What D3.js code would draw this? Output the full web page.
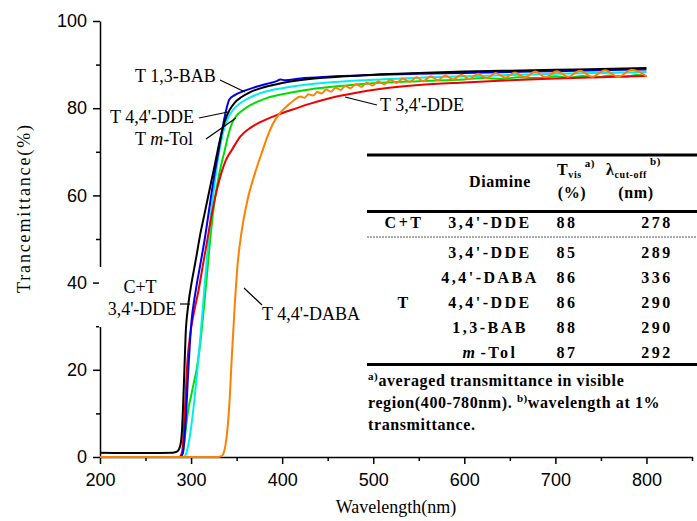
<!DOCTYPE html>
<html>
<head>
<meta charset="utf-8">
<script src="https://cdn.jsdelivr.net/npm/d3@7"></script>
<style>
  body { margin: 0; background: #fff; }
  svg { display: block; }
</style>
</head>
<body>
<svg id="chart"></svg>
<script>
var width = 697;
var height = 521;

// spectra, [wavelength nm, transmittance %]
var ctDDE34 = [[200,1.0],[250,0.9],[280,1.0],[285,1.3],[288,2.5],[290,6],[292,16],[294,28],[297,35],[301,40.5],
  [305,45],[310,51],[315,56],[320,61],[326,67],[332,73],[337,77],[342,79.5],[348,81.3],[355,82.5],[365,83.7],
  [380,84.8],[400,85.8],[430,86.7],[470,87.3],[500,87.7],[550,88.1],[600,88.4],[650,88.6],[700,88.8],[750,89.0],[800,89.2]];

var tBAB13 = [[200,0],[288,0],[291,1],[294,8],[297,20],[300,30],[305,38],[310,44],[315,50],[320,57],[325,64],
  [330,70],[335,76],[339,80],[342,82],[348,83],[355,83.7],[370,84.8],[385,85.7],[394,86.2],[398,86.6],[403,86.4],
  [420,86.8],[450,87.2],[500,87.6],[550,87.9],[600,88.1],[650,88.3],[700,88.5],[750,88.7],[800,88.9]];

var tDDE34 = [[200,0],[287,0],[290,1],[293,10],[296,22],[299,28],[303,33],[308,38],[313,44],[318,50],[323,56],
  [328,61],[333,65],[338,68],[345,70.5],[354,73.5],[365,75.5],[376,76.8],[394,78.4],[410,79.6],[430,81],
  [452,82.3],[480,83.5],[507,84.4],[550,85.3],[600,85.9],[650,86.4],[700,86.8],[750,87.1],[800,87.4]];

var tDDE44 = [[200,0],[292,0],[295,1],[298,4],[302,10],[306,18],[310,27],[314,37],[318,47],[322,56],[326,63],
  [330,69],[335,74.3],[340,77.5],[346,79.6],[355,81.3],[365,82.5],[380,83.7],[400,84.6],[430,85.5],[470,86.2],
  [500,86.5],[550,87],[600,87.3],[650,87.6],[700,87.9],[750,88.1],[800,88.3]];

var tTol = [[200,0],[289,0],[291,1],[294,6],[297,11],[300,14],[303,17],[306,20],[310,26],[314,34],[318,43],
  [322,52],[326,59],[331,65],[337,70.4],[341,74],[345,76.6],[350,78.3],[357,79.6],[370,81.2],[383,82.3],
  [400,83.2],[430,84.3],[470,85.2],[500,85.7],[550,86.2],[600,86.6],[620,86.9],[640,86.7],[660,87.1],[680,86.9],
  [700,87.3],[715,87.0],[730,87.4],[745,87.1],[760,87.5],[775,87.2],[790,87.6],[800,87.3]];

var tDABA44 = [[200,0],[330,0],[334,0.3],[338,3],[342,12],[345,24],[348,35],[351,44],[355,51],[362,59],
  [370,65],[378,70],[384,73.6],[390,76.5],[398,79],[407,80.8],[414,82],
  [420,82.7],[424.5,82.4],[429,83.2],[434,82.9],[438.5,83.7],[443.5,83.4],[448.5,84.3],[453.5,83.8],
  [459,84.7],[464,84.2],[469.5,85.1],[475,84.6],[481,85.5],[487,84.9],[493,85.9],[499,85.2],[505.5,86.2],
  [512,85.5],[519,86.5],[525.5,85.8],[532.5,86.8],[540,86.0],[547.5,87.1],[555,86.2],[563,87.3],[571,86.4],
  [579,87.5],[588,86.6],[596.5,87.7],[605.5,86.7],[615,87.9],[624.5,86.9],[634.5,88.1],[645,87.0],
  [655.5,88.2],[666.5,87.1],[678,88.4],[689.5,87.1],[701.5,88.5],[714,87.2],[727,88.6],[740.5,87.2],
  [754.5,88.7],[769,87.2],[784,88.8],[800,87.3]];

var seriesList = [tTol, tDDE44, tDDE34, tBAB13, ctDDE34, tDABA44];
var seriesColors = ["#00dd00", "#00eeee", "#ee0000", "#0000ee", "#000000", "#ff8000"];

var xTicks = [200, 300, 400, 500, 600, 700, 800];
var xMinor = [250, 350, 450, 550, 650, 750, 850];
var yTicks = [0, 20, 40, 60, 80, 100];
var yMinor = [10, 30, 50, 70, 90];

// table values
var tableGroup = ["C+T", "", "", "T", "", ""];
var tableDiamine = ["3,4'-DDE", "3,4'-DDE", "4,4'-DABA", "4,4'-DDE", "1,3-BAB", "m-Tol"];
var tableTvis = [88, 85, 86, 86, 88, 87];
var tableCutoff = [278, 289, 336, 290, 290, 292];

var xAxis = d3.scaleLinear().domain([200, 850]).range([100, 692]);
var yAxis = d3.scaleLinear().domain([0, 100]).range([457, 21]);

var svg = d3.select("#chart")
  .attr("width", width)
  .attr("height", height)
  .style("background", "#fff");

// axes
var gx = svg.append("g").attr("transform", "translate(0,457)")
  .call(d3.axisBottom(xAxis).tickValues(xTicks).tickSize(7).tickSizeOuter(0).tickPadding(9));
var gxm = svg.append("g").attr("transform", "translate(0,457)")
  .call(d3.axisBottom(xAxis).tickValues(xMinor).tickSize(4).tickSizeOuter(0).tickFormat(""));
var gy = svg.append("g").attr("transform", "translate(100,0)")
  .call(d3.axisLeft(yAxis).tickValues(yTicks).tickSize(7).tickSizeOuter(0).tickPadding(6));
var gym = svg.append("g").attr("transform", "translate(100,0)")
  .call(d3.axisLeft(yAxis).tickValues(yMinor).tickSize(4).tickSizeOuter(0).tickFormat(""));

[gx, gxm, gy, gym].forEach(function (g) {
  g.selectAll("path, line").attr("stroke", "#000").attr("stroke-width", 1.5);
  g.selectAll("text").attr("fill", "#000")
    .style("font-family", "'Liberation Sans', Arial, sans-serif").style("font-size", "18px");
});
gxm.select("path").remove();
gym.select("path").remove();

svg.append("text")
  .attr("x", 396).attr("y", 513)
  .attr("text-anchor", "middle")
  .style("font-family", "'Liberation Serif', 'Times New Roman', serif").style("font-size", "18px")
  .text("Wavelength(nm)");

svg.append("text")
  .attr("transform", "translate(30,209) rotate(-90)")
  .attr("text-anchor", "middle")
  .style("font-family", "'Liberation Serif', 'Times New Roman', serif").style("font-size", "18px")
  .attr("textLength", 168)
  .text("Trancemittance(%)");

// curves
var line = d3.line()
  .x(function (d) { return xAxis(d[0]); })
  .y(function (d) { return yAxis(d[1]); })
  .curve(d3.curveMonotoneX);

for (var i = 0; i < seriesList.length; i++) {
  svg.append("path")
    .datum(seriesList[i])
    .attr("d", line)
    .attr("fill", "none")
    .attr("stroke", seriesColors[i])
    .attr("stroke-width", 2);
}

// curve labels
var serif = "'Liberation Serif', 'Times New Roman', serif";
function label(x, y, txt, anchor) {
  return svg.append("text").attr("x", x).attr("y", y)
    .attr("text-anchor", anchor || "start")
    .style("font-family", serif).style("font-size", "18px")
    .text(txt);
}
function leader(x1, y1, x2, y2) {
  svg.append("line").attr("x1", x1).attr("y1", y1).attr("x2", x2).attr("y2", y2)
    .attr("stroke", "#000").attr("stroke-width", 1.2);
}

label(135, 82, "T 1,3-BAB");
leader(220, 80, 245, 92);
label(110, 123, "T 4,4'-DDE");
leader(199, 118, 228, 112);
var tol = label(135, 145, "T ");
tol.append("tspan").style("font-style", "italic").text("m");
tol.append("tspan").text("-Tol");
leader(206, 139, 236, 118);
label(380, 111, "T 3,4'-DDE");
leader(345, 97, 377, 105);
label(262, 320, "T 4,4'-DABA");
leader(262, 305, 244, 288);

svg.append("rect").attr("x", 99).attr("y", 267).attr("width", 82).attr("height", 60).attr("fill", "#fff");
label(140, 293, "C+T", "middle");
label(142, 315, "3,4'-DDE", "middle");
leader(180, 304, 190, 304);

// table
var tb = svg.append("g")
  .style("font-family", serif).style("font-weight", "bold").style("font-size", "16px")
  .style("letter-spacing", "0.6px");

function rule(y, w) {
  tb.append("line").attr("x1", 367).attr("x2", 697).attr("y1", y).attr("y2", y)
    .attr("stroke", "#000").attr("stroke-width", w);
}
rule(155, 3);
rule(211.5, 3);
rule(364.5, 3);
tb.append("line").attr("x1", 367).attr("x2", 697).attr("y1", 237).attr("y2", 237)
  .attr("stroke", "#555").attr("stroke-width", 1).attr("stroke-dasharray", "2,1");

var colGroup = 404, colDiamine = 490, colTvis = 567, colCut = 657;

tb.append("text").attr("x", 500).attr("y", 187).attr("text-anchor", "middle").text("Diamine");

var th1 = tb.append("text").attr("x", 557).attr("y", 175);
th1.append("tspan").text("T");
th1.append("tspan").attr("dy", 3).style("font-size", "10px").text("vis");
th1.append("tspan").attr("dy", -11).attr("dx", 3).style("font-size", "11px").text("a)");
tb.append("text").attr("x", 572).attr("y", 198).attr("text-anchor", "middle").text("(%)");

var th2 = tb.append("text").attr("x", 606).attr("y", 175);
th2.append("tspan").text("λ");
th2.append("tspan").attr("dy", 3).style("font-size", "10px").text("cut-off");
th2.append("tspan").attr("dy", -13).attr("dx", 3).style("font-size", "11px").text("b)");
tb.append("text").attr("x", 636).attr("y", 198).attr("text-anchor", "middle").text("(nm)");

var rowY = [228, 258, 283, 308, 333, 358];
for (j = 0; j < rowY.length; j++) {
  if (tableGroup[j]) {
    tb.append("text").attr("x", colGroup).attr("y", rowY[j]).attr("text-anchor", "middle")
      .style("letter-spacing", "2.5px").text(tableGroup[j]);
  }
  var dn = tb.append("text").attr("x", colDiamine).attr("y", rowY[j]).attr("text-anchor", "middle")
    .style("letter-spacing", "2.5px");
  if (tableDiamine[j].indexOf("m-") === 0) {
    dn.append("tspan").style("font-style", "italic").text("m");
    dn.append("tspan").attr("dx", 3).text(tableDiamine[j].slice(1));
  } else {
    dn.text(tableDiamine[j]);
  }
  tb.append("text").attr("x", colTvis).attr("y", rowY[j]).attr("text-anchor", "middle")
    .style("letter-spacing", "2.5px").text(tableTvis[j]);
  tb.append("text").attr("x", colCut).attr("y", rowY[j]).attr("text-anchor", "middle")
    .style("letter-spacing", "2.5px").text(tableCutoff[j]);
}

// footnotes
var f1 = tb.append("text").attr("x", 368).attr("y", 386);
f1.append("tspan").attr("dy", -6).style("font-size", "11px").text("a)");
f1.append("tspan").attr("dy", 6).text("averaged transmittance in visible");
var f2 = tb.append("text").attr("x", 368).attr("y", 408);
f2.append("tspan").text("region(400-780nm). ");
f2.append("tspan").attr("dy", -6).style("font-size", "11px").text("b)");
f2.append("tspan").attr("dy", 6).text("wavelength at 1%");
tb.append("text").attr("x", 368).attr("y", 430).text("transmittance.");
</script>
</body>
</html>
